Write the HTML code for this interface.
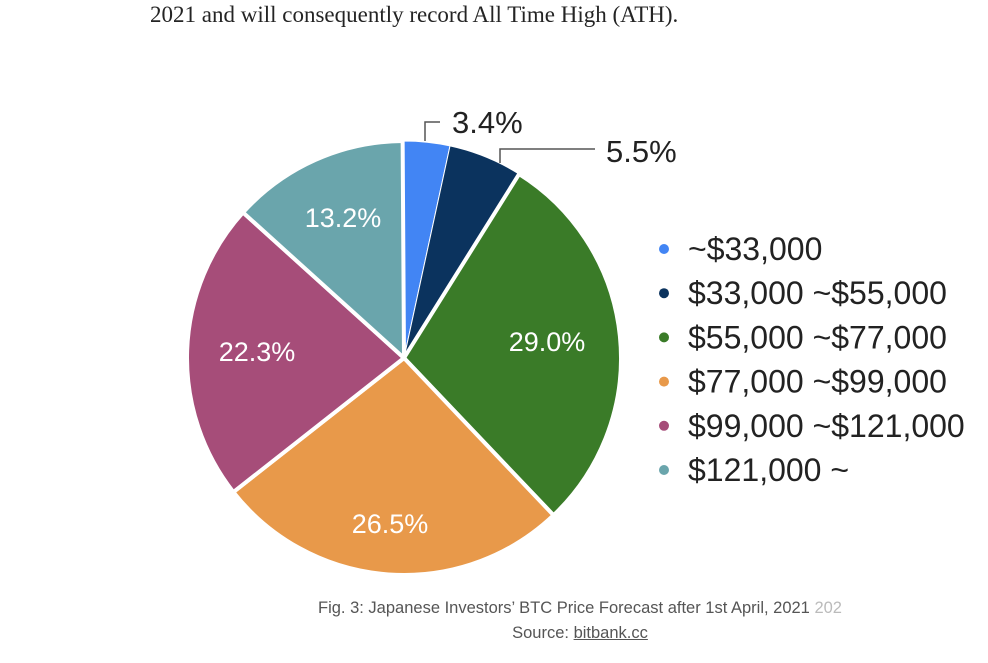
<!DOCTYPE html>
<html><head><meta charset="utf-8"><style>
body{margin:0;width:988px;height:663px;background:#fff;overflow:hidden;position:relative;font-family:"Liberation Sans",sans-serif}
.top{position:absolute;left:150px;top:2px;font-family:"Liberation Serif",serif;font-size:23px;color:#242424;white-space:nowrap}
.cap{position:absolute;width:988px;left:86px;text-align:center;font-size:16.5px;color:#555;white-space:nowrap}
</style></head><body>
<div class="top">2021 and will consequently record All Time High (ATH).</div>
<svg id="s" width="988" height="663" style="position:absolute;left:0;top:0" font-family="Liberation Sans, sans-serif"></svg>
<div class="cap" style="top:599px">Fig. 3: Japanese Investors’ BTC Price Forecast after 1st April, 2021 <span style="color:#bbb">202</span></div>
<div class="cap" style="top:624px">Source: <u>bitbank.cc</u></div>
<script>
var s=document.getElementById('s'),cx=404,cy=358,r=217;
var d=[[3.4,'#4285f4',1],[5.5,'#0b335e',1],[29.0,'#3a7b28',4],[26.5,'#e8994a',4],[22.3,'#a64d79',4],[13.2,'#6aa5ac',4]];
var a=0,h='';
d.forEach(function(x){var a0=a,a1=a+x[0]/100*2*Math.PI;a=a1;
var p=function(t){return [cx+r*Math.sin(t),cy-r*Math.cos(t)]};
var P=p(a0),Q=p(a1);
h+='<path d="M'+cx+','+cy+'L'+P[0]+','+P[1]+'A'+r+','+r+' 0 '+((a1-a0)>Math.PI?1:0)+',1 '+Q[0]+','+Q[1]+'Z" fill="'+x[1]+'" stroke="#fff" stroke-width="'+x[2]+'"/>';});
h+='<path d="M425,141V122H440M500,163V149H595" fill="none" stroke="#555" stroke-width="1.5"/>';
h+='<text x="452" y="133" font-size="31" fill="#222">3.4%</text><text x="606" y="162" font-size="31" fill="#222">5.5%</text>';
[['13.2%',343,218],['29.0%',547,342],['22.3%',257,352],['26.5%',390,524]].forEach(function(t){h+='<text x="'+t[1]+'" y="'+(t[2]+9)+'" font-size="27" fill="#fff" text-anchor="middle">'+t[0]+'</text>';});
var L=['~$33,000','$33,000 ~$55,000','$55,000 ~$77,000','$77,000 ~$99,000','$99,000 ~$121,000','$121,000 ~'];
L.forEach(function(t,i){var y=249+i*44.2;h+='<circle cx="664" cy="'+y+'" r="5" fill="'+d[i][1]+'"/><text x="688" y="'+(y+11)+'" font-size="32" fill="#222">'+t+'</text>';});
s.innerHTML=h;
</script>
</body></html>
